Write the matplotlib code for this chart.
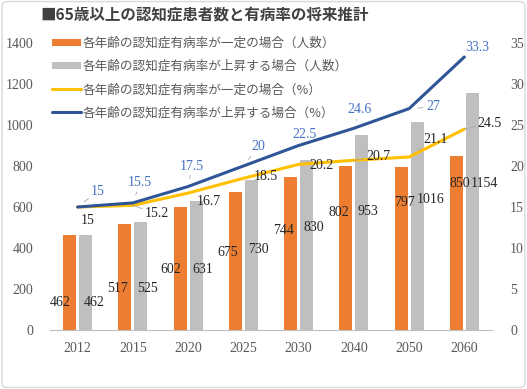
import matplotlib
matplotlib.use("Agg")
import matplotlib.pyplot as plt
from matplotlib.patches import FancyBboxPatch
import numpy as np

# ---- data ----
years = ["2012", "2015", "2020", "2025", "2030", "2040", "2050", "2060"]
count_const = [462, 517, 602, 675, 744, 802, 797, 850]
count_rise = [462, 525, 631, 730, 830, 953, 1016, 1154]
rate_const = [15, 15.2, 16.7, 18.5, 20.2, 20.7, 21.1, 24.5]
rate_rise = [15, 15.5, 17.5, 20, 22.5, 24.6, 27, 33.3]

labels = ["各年齢の認知症有病率が一定の場合（人数）",
          "各年齢の認知症有病率が上昇する場合（人数）",
          "各年齢の認知症有病率が一定の場合（%）",
          "各年齢の認知症有病率が上昇する場合（%）"]
title = "■65歳以上の認知症患者数と有病率の将来推計"

# label placement (x in category units, y in axis units)
lab_const_xy = [(-0.32, 132), (0.73, 200), (1.69, 293), (2.72, 380),
                (3.72, 483), (4.73, 571), (5.91, 620), (6.92, 717)]
lab_rise_xy = [(0.30, 132), (1.26, 200), (2.27, 293), (3.28, 395),
               (4.28, 498), (5.26, 576), (6.38, 639), (7.37, 717)]
lab_rrise_xy = [(0.37, 16.95), (1.13, 17.93), (2.07, 20.0), (3.27, 22.32),
                (4.10, 23.9), (5.11, 26.83), (6.43, 27.2), (7.23, 34.5)]
lab_rconst_xy = [(0.19, 13.41), (1.44, 14.15), (2.38, 15.73), (3.41, 18.66),
                 (4.42, 20.12), (5.44, 21.1), (6.47, 23.29), (7.46, 25.24)]
lead_rrise = [True, True, True, True, False, True, True, False]
lead_rconst = [False, True, False, False, False, True, True, True]

ORANGE = "#ED7D31"
GRAY = "#BFBFBF"
YELLOW = "#FFC000"
BLUE = "#2F5597"
BLUE_TXT = "#4472C4"
TXT = "#595959"
JP = ["Noto Sans CJK JP", "DejaVu Sans"]
SERIF = ["Liberation Serif", "DejaVu Serif"]
NUM_FS = 10

fig = plt.figure(figsize=(5.27, 3.89), dpi=100)
fig.patch.set_facecolor("white")
ax = fig.add_axes([50 / 527, 59 / 389, 442 / 527, 287 / 389])
ax2 = ax.twinx()

x = np.arange(len(years))
bw = 0.235
off = 0.145
b1 = ax.bar(x - off, count_const, bw, color=ORANGE, zorder=2)
b2 = ax.bar(x + off, count_rise, bw, color=GRAY, zorder=2)
l1, = ax2.plot(x, rate_const, color=YELLOW, lw=2.2, solid_capstyle="round")
l2, = ax2.plot(x, rate_rise, color=BLUE, lw=2.2, solid_capstyle="round")

ax.set_xlim(-0.5, len(years) - 0.5)
ax.set_ylim(0, 1400)
ax2.set_ylim(0, 35)
ax.set_yticks(np.arange(0, 1401, 200))
ax2.set_yticks(np.arange(0, 36, 5))
ax.set_xticks(x)
ax.set_xticklabels(years)

for a in (ax, ax2):
    for s in ("top", "left", "right"):
        a.spines[s].set_visible(False)
    a.spines["bottom"].set_color("#BFBFBF")
    a.tick_params(length=0, colors=TXT, labelsize=NUM_FS)
    for t in a.get_xticklabels() + a.get_yticklabels():
        t.set_family(SERIF)
ax.tick_params(axis="y", pad=12)
ax.tick_params(axis="x", pad=9)
ax2.tick_params(axis="y", pad=13)
ax2.spines["bottom"].set_visible(False)

# bar labels
for v, (lx, ly) in zip(count_const, lab_const_xy):
    ax.text(lx, ly, str(v), ha="center", va="center", fontsize=NUM_FS,
            family=SERIF, color="#262626", zorder=3)
for v, (lx, ly) in zip(count_rise, lab_rise_xy):
    ax.text(lx, ly, str(v), ha="center", va="center", fontsize=NUM_FS,
            family=SERIF, color="#262626", zorder=3)

def fmt(v):
    return f"{v:g}"

for i, (v, (lx, ly), ld) in enumerate(zip(rate_rise, lab_rrise_xy, lead_rrise)):
    ap = dict(arrowstyle="-", color="#A6A6A6", lw=0.6, shrinkA=0, shrinkB=6) if ld else None
    ax2.annotate(fmt(v), xy=(i, v), xytext=(lx, ly), textcoords="data",
                 ha="center", va="center", fontsize=NUM_FS, family=SERIF,
                 color=BLUE_TXT, arrowprops=ap)
for i, (v, (lx, ly), ld) in enumerate(zip(rate_const, lab_rconst_xy, lead_rconst)):
    ap = dict(arrowstyle="-", color="#A6A6A6", lw=0.6, shrinkA=0, shrinkB=8) if ld else None
    ax2.annotate(fmt(v), xy=(i, v), xytext=(lx, ly), textcoords="data",
                 ha="center", va="center", fontsize=NUM_FS, family=SERIF,
                 color="#262626", arrowprops=ap)

leg = fig.legend([b1, b2, l1, l2], labels, loc="upper left",
                 bbox_to_anchor=(52 / 527, 1 - 37 / 389), frameon=False,
                 prop={"family": JP, "size": 9.1}, labelcolor=TXT,
                 handlelength=2.3, handleheight=0.5, handletextpad=0.12,
                 labelspacing=0.8, borderpad=0, borderaxespad=0)

fig.text(40 / 527, 1 - 15 / 389, title, ha="left", va="center",
         fontsize=11.2, fontweight="bold", color="#404040", family=JP)

border = FancyBboxPatch((0.004, 0.004), 0.992, 0.992,
                        boxstyle="round,pad=0,rounding_size=0.01",
                        transform=fig.transFigure, fill=False,
                        edgecolor="#D9D9D9", lw=1.0)
fig.patches.append(border)

fig.savefig("out.png", dpi=100)
